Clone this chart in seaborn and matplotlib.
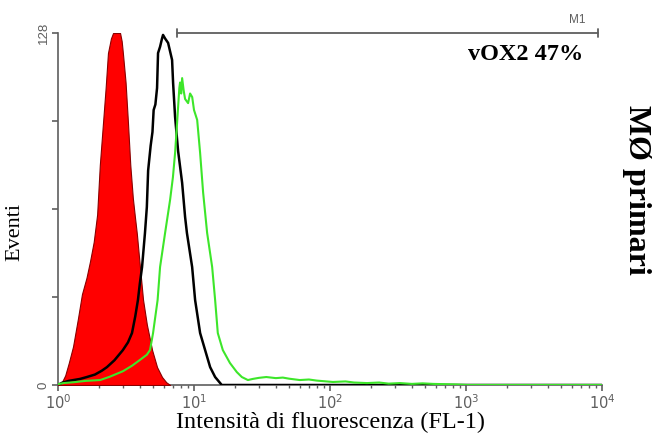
import matplotlib

matplotlib.use("Agg")
import matplotlib.pyplot as plt
import matplotlib.ticker as mticker
import pandas as pd
import seaborn as sns

# isotype control (red, filled)
ctrl_fl = [1.00, 1.03, 1.07, 1.13, 1.20, 1.29, 1.40, 1.50, 1.62, 1.72, 1.83, 1.94, 2.03, 2.14,
           2.24, 2.33, 2.45, 2.54, 2.70, 2.86, 2.94, 3.00, 3.14, 3.27, 3.40, 3.55, 3.68, 3.80,
           3.95, 4.22, 4.50, 4.92, 5.35, 5.82, 6.25, 6.67]
ctrl_events = [0, 0.5, 1.1, 3.5, 8, 14, 24, 33, 39, 45, 52, 62, 80, 95,
               108, 120.7, 126, 128, 128, 128, 125, 120.7, 110, 95.3, 80, 68, 61, 55,
               46, 31, 22, 12.7, 6.5, 2.9, 1, 0]

# unstained / secondary only (black)
neg_fl = [1.00, 1.07, 1.20, 1.45, 1.63, 1.87, 2.10, 2.29, 2.60, 3.00, 3.27, 3.50, 3.70, 3.87,
          4.00, 4.15, 4.36, 4.50, 4.60, 4.80, 4.95, 5.05, 5.20, 5.35, 5.44, 5.63, 5.82, 5.92,
          6.13, 6.45, 6.90, 7.02, 7.26, 7.64, 8.18, 8.60, 8.87, 9.69, 10.19, 11.09, 12.07,
          13.14, 14.30, 16.0, 100, 1000, 10000]
neg_events = [0, 0.8, 1.5, 2.2, 2.9, 3.8, 5.2, 6.5, 9, 12.7, 15.5, 18.9, 25, 30.9,
              37, 42.9, 55.3, 64.7, 78, 87, 92, 100, 102, 108, 120.7, 123, 126, 127.3,
              126, 124.4, 118.2, 109.8, 97.5, 85.1, 73.5, 61.1, 55.3, 42.9, 30.9, 18.9, 12.7,
              6.5, 2.9, 0, 0, 0, 0]

# vOX2 staining (green)
vox2_fl = [1.00, 1.10, 1.30, 1.60, 2.04, 2.40, 3.00, 3.50, 4.00, 4.50, 4.75, 5.00, 5.40, 5.63,
           6.13, 6.67, 7.00, 7.26, 7.51, 7.64, 7.80, 7.90, 8.05, 8.18, 8.40, 8.60, 9.05, 9.36,
           9.70, 10.0, 10.55, 11.09, 11.67, 12.49, 13.60, 14.30, 14.96, 16.29, 18.38, 20.64,
           22.47, 24.9, 27, 30, 34, 40, 45, 50, 60, 70, 80, 105, 130, 150, 187, 230, 270, 327,
           400, 480, 572, 700, 850, 1017, 10000]
vox2_events = [0.3, 0.7, 1.0, 1.5, 1.8, 3.0, 5.0, 7.0, 9.1, 11, 12.7, 18.9, 30.9, 42.9,
               55.3, 67.3, 75.6, 84.4, 95.3, 101.1, 108, 110, 106, 111.6, 107, 104, 102.5, 106,
               104.7, 100, 96.4, 84.4, 70, 55.3, 42.9, 30.9, 18.9, 12.7, 8.0, 4.7,
               2.9, 1.8, 2.2, 2.6, 2.9, 2.5, 2.7, 2.3, 1.8, 2.0, 1.6, 1.1, 1.3, 0.9, 0.7, 0.9, 0.5, 0.7,
               0.4, 0.6, 0.4, 0.3, 0.2, 0, 0]

marker_start = 7.5
marker_end = 9340
marker_label = "M1"
positive_label = "vOX2 47%"
side_label = "MØ primari"

sns.set_theme(style="white")
plt.rcParams["font.family"] = ["Liberation Serif", "DejaVu Serif"]

grey = "#5e5e5e"

fig = plt.figure(figsize=(6.61, 4.33), dpi=100)
ax = fig.add_axes([58 / 661, 48 / 433, 544 / 661, 352 / 433])

ax.fill_between(ctrl_fl, ctrl_events, 0, facecolor="#ff0000", edgecolor="#8a0000", linewidth=0.8, zorder=2)

neg_df = pd.DataFrame({"fl": neg_fl, "events": neg_events})
vox2_df = pd.DataFrame({"fl": vox2_fl, "events": vox2_events})
sns.lineplot(data=neg_df, x="fl", y="events", sort=False, estimator=None, color="black", linewidth=1.8, ax=ax, zorder=3)
sns.lineplot(data=vox2_df, x="fl", y="events", sort=False, estimator=None, color="#3de62a", linewidth=1.5, ax=ax, zorder=4)

ax.set_xscale("log")
ax.set_xlim(1, 10000)
ax.set_ylim(0, 128)

for side in ["top", "right"]:
    ax.spines[side].set_visible(False)
for side in ["left", "bottom"]:
    ax.spines[side].set_color(grey)
    ax.spines[side].set_linewidth(1.2)
    ax.spines[side].set_zorder(1)

ax.set_yticks([0, 32, 64, 96, 128])
ax.set_yticklabels(["0", "", "", "", "128"], rotation=90, va="center", family="Liberation Sans", fontsize=9.5, color=grey)
ax.xaxis.set_minor_locator(mticker.LogLocator(base=10, subs=range(2, 10), numticks=10))
ax.xaxis.set_minor_formatter(mticker.NullFormatter())
ax.set_xticks([1, 10, 100, 1000, 10000])
ax.set_xticklabels([r"$10^0$", r"$10^1$", r"$10^2$", r"$10^3$", r"$10^4$"], fontsize=10.5, color=grey)
ax.tick_params(axis="both", which="major", direction="out", length=4, width=1.2, color=grey, pad=2,
               left=True, bottom=True)
ax.tick_params(axis="x", which="minor", direction="out", length=2.5, width=1, color=grey, bottom=True)
ax.grid(False)

ax.set_xlabel("Intensità di fluorescenza (FL-1)", fontsize=17.5, color="black", labelpad=0)
ax.set_ylabel("Eventi", fontsize=16, color="black")
ax.yaxis.set_label_coords(-0.062, 0.435)

# M1 gate marker
ax.plot([marker_start, marker_end], [128, 128], color=grey, linewidth=1.3, clip_on=False, zorder=5)
for xm in [marker_start, marker_end]:
    ax.plot([xm, xm], [126.5, 129.5], color=grey, linewidth=1.3, clip_on=False, zorder=5)
ax.text(0.955, 1.02, marker_label, transform=ax.transAxes, ha="center", va="bottom",
        family="Liberation Sans", fontsize=8.5, color=grey)
ax.text(0.965, 0.9375, positive_label, transform=ax.transAxes, ha="right", va="center",
        fontsize=17.5, fontweight="bold", color="black")
fig.text(0.963, 0.561, side_label, rotation=270, ha="center", va="center",
         fontsize=23, fontweight="bold", color="black")

fig.savefig("out.png", dpi=100)
